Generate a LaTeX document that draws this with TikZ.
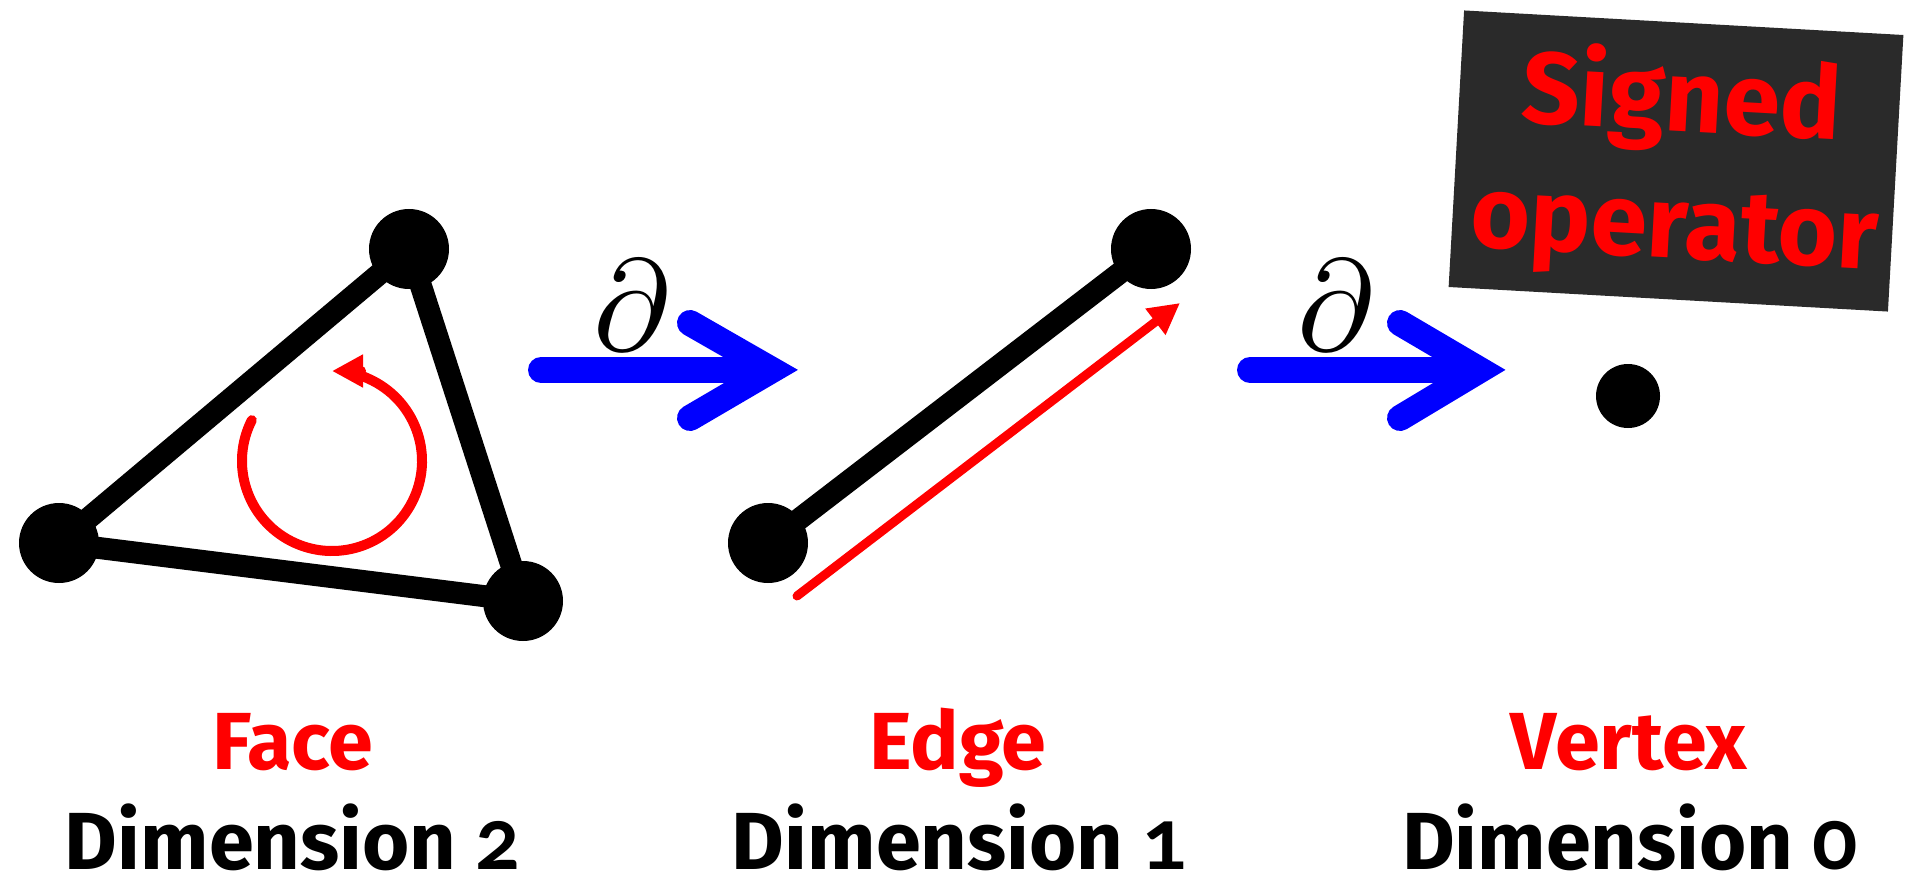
\documentclass[tikz,border=0pt]{standalone}
\usepackage{fontspec}
\usepackage{graphicx}
\newfontfamily\labelfont{Fira Sans}
\newfontfamily\digitfont{Lato}[Numbers=OldStyle]
\usetikzlibrary{arrows.meta}
\definecolor{boxgray}{HTML}{2A2A2A}
\definecolor{pured}{RGB}{255,0,0}
\definecolor{pureblue}{RGB}{0,0,255}
\newcommand{\osnum}[1]{{\digitfont\bfseries\fontsize{84}{90}\selectfont #1}}
\begin{document}
\begin{tikzpicture}[x=1pt,y=-1pt,
  vert/.style={circle, fill=black, inner sep=0pt, minimum size=80pt},
  dotvert/.style={circle, fill=black, inner sep=0pt, minimum size=64pt},
  edgeline/.style={black, line width=22pt, line cap=round},
  redarc/.style={pured, line width=10pt, line cap=round, -{Triangle[length=31pt,width=31pt]}},
  redarrow/.style={pured, line width=9pt, line cap=round, -{Triangle[length=31pt,width=31pt]}},
  bluestroke/.style={pureblue, line width=26pt, line cap=round},
  chevron/.style={bluestroke, line join=miter},
  partialsym/.style={inner sep=0pt},
  boxtext/.style={rotate=-3.2, anchor=base, inner sep=0pt, text=pured, font=\labelfont\bfseries\fontsize{102}{127}\selectfont},
  redlabel/.style={anchor=base, inner sep=0pt, text=pured, font=\labelfont\bfseries\fontsize{81}{90}\selectfont},
  dimlabel/.style={anchor=base, inner sep=0pt, text=black, font=\labelfont\bfseries\fontsize{81}{90}\selectfont}
]
\useasboundingbox (0,0) rectangle (1905,877);

% Face
\node[vert] (fT) at (409,249) {};
\node[vert] (fL) at (59,543) {};
\node[vert] (fR) at (523,601) {};
\draw[edgeline] (fL.center) -- (fT.center);
\draw[edgeline] (fT.center) -- (fR.center);
\draw[edgeline] (fR.center) -- (fL.center);
\coordinate (rc) at (332,461);
\draw[redarc] ([shift={(-153:90)}]rc) arc[start angle=-153, end angle=-450, radius=90];

% first boundary arrow
\coordinate (b1s) at (541,370);
\coordinate (b1e) at (760,370);
\coordinate (b1v) at (772,370);
\coordinate (b1u) at (690,323);
\coordinate (b1d) at (690,418);
\draw[bluestroke] (b1s) -- (b1e);
\draw[chevron] (b1u) -- (b1v) -- (b1d);
\node[partialsym] (d1) at (632,305) {\scalebox{13}{$\partial$}};

% Edge
\node[vert] (eL) at (768,543) {};
\node[vert] (eR) at (1151,249) {};
\draw[edgeline] (eL.center) -- (eR.center);
\coordinate (ea) at (797,596);
\coordinate (eb) at (1180,303);
\draw[redarrow] (ea) -- (eb);

% second boundary arrow
\coordinate (b2s) at (1250,370);
\coordinate (b2e) at (1468,370);
\coordinate (b2v) at (1480,370);
\coordinate (b2u) at (1400,323);
\coordinate (b2d) at (1400,418);
\draw[bluestroke] (b2s) -- (b2e);
\draw[chevron] (b2u) -- (b2v) -- (b2d);
\node[partialsym] (d2) at (1336,305) {\scalebox{13}{$\partial$}};

% Vertex
\node[dotvert] (v0) at (1628,396) {};

% Signed operator box
\node[rotate=-3.2, fill=boxgray, minimum width=440pt, minimum height=277pt, inner sep=0pt] (sbox) at (1676,161) {};
\node[boxtext] (stext1) at (1680,131) {Signed};
\node[boxtext] (stext2) at (1673,258) {operator};

% labels
\node[redlabel] (lface) at (293,769) {Face};
\node[dimlabel] (ldim2) at (293,869) {Dimension \osnum{2}};
\node[redlabel] (ledge) at (958,769) {Edge};
\node[dimlabel] (ldim1) at (960,869) {Dimension \osnum{1}};
\node[redlabel] (lvert) at (1629,769) {Vertex};
\node[dimlabel] (ldim0) at (1630,869) {Dimension \osnum{0}};
\end{tikzpicture}
\end{document}
